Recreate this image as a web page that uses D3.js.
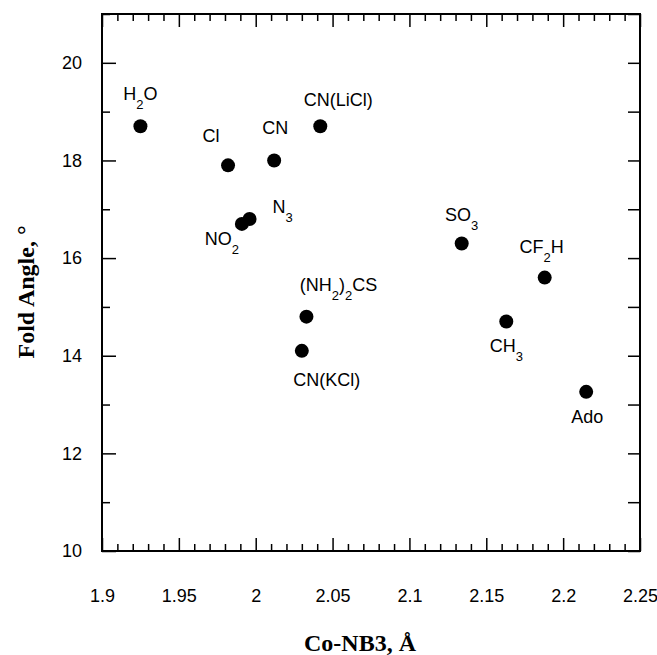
<!DOCTYPE html>
<html>
<head>
<meta charset="utf-8">
<script src="https://cdn.jsdelivr.net/npm/d3@7"></script>
<style>
  body { margin: 0; background: #fff; }
  svg text { font-family: "Liberation Sans", Arial, Helvetica, sans-serif; }
</style>
</head>
<body>
<div id="chart"></div>
<script>
const width = 657;
const height = 655;
const MARGIN_LEFT = 102;
const MARGIN_RIGHT = 17;
const MARGIN_TOP = 14;
const MARGIN_DOWN = 104;

// compounds, "_x" marks a subscript
const names = ["H_2O", "Cl", "CN", "CN(LiCl)", "N_3", "NO_2", "(NH_2)_2CS", "CN(KCl)", "SO_3", "CF_2H", "CH_3", "Ado"];
const bondLength = [1.925, 1.982, 2.012, 2.042, 1.996, 1.991, 2.033, 2.030, 2.134, 2.188, 2.163, 2.215];
const foldAngle = [18.7, 17.9, 18.0, 18.7, 16.8, 16.7, 14.8, 14.1, 16.3, 15.6, 14.7, 13.26];

const xTicks = [1.9, 1.95, 2, 2.05, 2.1, 2.15, 2.2, 2.25];
const yTicks = [10, 12, 14, 16, 18, 20];

// label placement relative to each point (px)
const labelDx = [0, -17, 1, 18, 33, -20, 32, 25, 0, -3, 0, 1];
const labelDy = [-26, -23, -26, -20, -6, 21, -26, 35, -22, -25, 30, 31];

const data = names.map((n, i) => ({name: n, x: bondLength[i], y: foldAngle[i], dx: labelDx[i], dy: labelDy[i]}));

const xScale = d3.scaleLinear()
    .domain([1.9, 2.25])
    .range([MARGIN_LEFT, width - MARGIN_RIGHT]);

const yScale = d3.scaleLinear()
    .domain([10, 21])
    .range([height - MARGIN_DOWN, MARGIN_TOP]);

const xMinor = d3.range(190, 226).map(d => d / 100).filter(d => !xTicks.some(t => Math.abs(t - d) < 1e-9));
const yMinor = [11, 13, 15, 17, 19, 21];

const svg = d3.select('#chart')
    .append('svg')
    .attr('width', width)
    .attr('height', height);

const bottom = height - MARGIN_DOWN;
const right = width - MARGIN_RIGHT;

function styleAxis(g) {
    g.select('.domain').remove();
    g.selectAll('line').attr('stroke', '#000').attr('stroke-width', 1.5);
    g.selectAll('text').attr('fill', '#000').attr('font-size', '18px');
}

// major ticks, all four sides, pointing in
svg.append('g')
    .attr('transform', `translate(0, ${bottom})`)
    .call(d3.axisBottom(xScale).tickValues(xTicks).tickSize(-13).tickPadding(38).tickFormat(d3.format('')))
    .call(styleAxis);
svg.append('g')
    .attr('transform', `translate(0, ${MARGIN_TOP})`)
    .call(d3.axisTop(xScale).tickValues(xTicks).tickSize(-13).tickFormat(''))
    .call(styleAxis);
svg.append('g')
    .attr('transform', `translate(${MARGIN_LEFT}, 0)`)
    .call(d3.axisLeft(yScale).tickValues(yTicks).tickSize(-14).tickPadding(20))
    .call(styleAxis);
svg.append('g')
    .attr('transform', `translate(${right}, 0)`)
    .call(d3.axisRight(yScale).tickValues(yTicks).tickSize(-12).tickFormat(''))
    .call(styleAxis);

// minor ticks
svg.append('g')
    .attr('transform', `translate(0, ${bottom})`)
    .call(d3.axisBottom(xScale).tickValues(xMinor).tickSize(-7).tickFormat(''))
    .call(styleAxis);
svg.append('g')
    .attr('transform', `translate(0, ${MARGIN_TOP})`)
    .call(d3.axisTop(xScale).tickValues(xMinor).tickSize(-7).tickFormat(''))
    .call(styleAxis);
svg.append('g')
    .attr('transform', `translate(${MARGIN_LEFT}, 0)`)
    .call(d3.axisLeft(yScale).tickValues(yMinor).tickSize(-8).tickFormat(''))
    .call(styleAxis);
svg.append('g')
    .attr('transform', `translate(${right}, 0)`)
    .call(d3.axisRight(yScale).tickValues(yMinor).tickSize(-12).tickFormat(''))
    .call(styleAxis);

// frame
svg.append('rect')
    .attr('x', MARGIN_LEFT)
    .attr('y', MARGIN_TOP)
    .attr('width', right - MARGIN_LEFT)
    .attr('height', bottom - MARGIN_TOP)
    .attr('fill', 'none')
    .attr('stroke', '#000')
    .attr('stroke-width', 2);

// points
svg.selectAll('circle.pt')
    .data(data)
    .join('circle')
    .attr('class', 'pt')
    .attr('cx', d => xScale(d.x))
    .attr('cy', d => yScale(d.y))
    .attr('r', 7)
    .attr('fill', '#000');

// labels with subscripts
const labels = svg.selectAll('text.lbl')
    .data(data)
    .join('text')
    .attr('class', 'lbl')
    .attr('x', d => xScale(d.x) + d.dx)
    .attr('y', d => yScale(d.y) + d.dy)
    .attr('text-anchor', 'middle')
    .attr('font-size', '18px')
    .attr('fill', '#000');

labels.each(function(d) {
    var t = d3.select(this);
    var parts = d.name.split(/(_\d)/).filter(p => p.length);
    var shifted = 0;
    parts.forEach(function(p) {
        if (p[0] === '_') {
            t.append('tspan').attr('dy', 9 - shifted).attr('font-size', '13px').text(p.slice(1));
            shifted = 9;
        } else {
            t.append('tspan').attr('dy', -shifted).text(p);
            shifted = 0;
        }
    });
});

// axis titles
svg.append('text')
    .attr('x', 360)
    .attr('y', 651)
    .attr('text-anchor', 'middle')
    .style('font-family', '"Liberation Serif", "Times New Roman", serif')
    .attr('font-weight', 'bold')
    .attr('font-size', '24px')
    .text('Co-NB3, Å');

svg.append('text')
    .attr('transform', `translate(34, 292) rotate(-90)`)
    .attr('text-anchor', 'middle')
    .style('font-family', '"Liberation Serif", "Times New Roman", serif')
    .attr('font-weight', 'bold')
    .attr('font-size', '24px')
    .text('Fold Angle, °');
</script>
</body>
</html>
